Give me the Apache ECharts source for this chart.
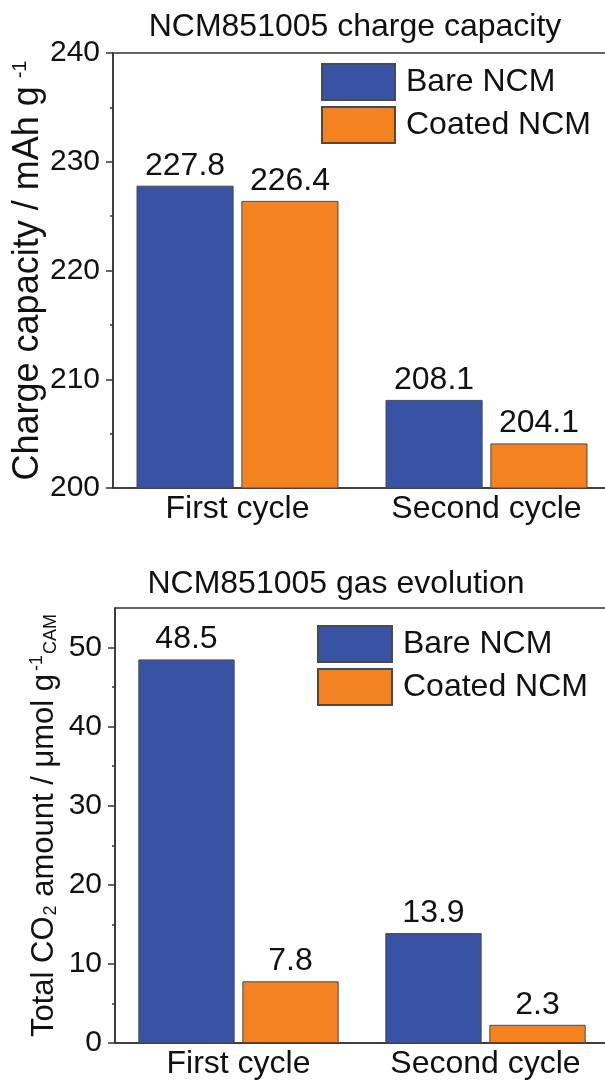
<!DOCTYPE html>
<html>
<head>
<meta charset="utf-8">
<script src="https://cdn.jsdelivr.net/npm/echarts@6/dist/echarts.min.js"></script>
<style>
  html, body { margin: 0; padding: 0; background: #fff; }
  #chart { width: 605px; height: 1081px; }
</style>
</head>
<body>
<div id="chart"></div>
<script>
// Cycle categories shared by both panels
const cycles = ['First cycle', 'Second cycle'];
const seriesNames = ['Bare NCM', 'Coated NCM'];

// Charge capacity (mAh g-1)
const capacityBare = [227.8, 208.1];
const capacityCoated = [226.4, 204.1];
const capacityTicks = [200, 210, 220, 230, 240];

// Total CO2 amount (µmol g-1 CAM)
const gasBare = [48.5, 13.9];
const gasCoated = [7.8, 2.3];
const gasTicks = [0, 10, 20, 30, 40, 50];
const gasMinorTicks = [5, 15, 25, 35, 45];

const FONT = 'Liberation Sans, Arial, sans-serif';
const BLUE = '#3953a4';
const ORANGE = '#f58220';
const INK = '#111';
const LINE = '#333';

const chart = echarts.init(document.getElementById('chart'), null, { renderer: 'canvas' });

function barSeries(name, data, color, idx) {
  return {
    name: name,
    type: 'bar',
    xAxisIndex: idx,
    yAxisIndex: idx,
    data: data,
    barWidth: '39%',
    barGap: '8%',
    itemStyle: { color: color, borderColor: '#4a4a4a', borderWidth: 1 },
    label: {
      show: true,
      position: 'top',
      distance: 4,
      fontFamily: FONT,
      fontSize: 32,
      color: INK,
      formatter: p => p.value.toFixed(1)
    }
  };
}

function xAxisCfg(idx) {
  return {
    type: 'category',
    gridIndex: idx,
    data: cycles,
    axisLine: { lineStyle: { color: LINE, width: 1.5 } },
    axisTick: { show: false },
    axisLabel: { fontFamily: FONT, fontSize: 32, color: INK, margin: 5, interval: 0, hideOverlap: false }
  };
}

const mainTop = { fontFamily: FONT, fontSize: 36, color: INK };
const supTop = { fontFamily: FONT, fontSize: 20, color: INK, verticalAlign: 'top', padding: [0, 0, 16, 8] };
const mainBot = { fontFamily: FONT, fontSize: 31, color: INK };
const supBot = { fontFamily: FONT, fontSize: 18, color: INK, verticalAlign: 'top', padding: [0, 0, 14, 3] };
const subBot = { fontFamily: FONT, fontSize: 18, color: INK, verticalAlign: 'bottom', padding: [8, 0, 0, 1] };

const option = {
  backgroundColor: '#ffffff',
  animation: false,
  graphic: [
    { type: 'text', style: { text: 'NCM851005 charge capacity', x: 355, y: 27, fontFamily: FONT, fontSize: 32, fill: INK, align: 'center', verticalAlign: 'middle' } },
    { type: 'text', style: { text: 'NCM851005 gas evolution', x: 336, y: 584, fontFamily: FONT, fontSize: 32, fill: INK, align: 'center', verticalAlign: 'middle' } }
  ],
  legend: [
    {
      data: seriesNames,
      orient: 'vertical',
      left: 321,
      top: 63,
      padding: 0,
      itemWidth: 73,
      itemHeight: 36,
      itemGap: 5,
      icon: 'rect',
      selectedMode: false,
      textStyle: { fontFamily: FONT, fontSize: 32, color: INK, padding: [0, 0, 0, 6] }
    },
    {
      data: seriesNames,
      orient: 'vertical',
      left: 317,
      top: 625,
      padding: 0,
      itemWidth: 74,
      itemHeight: 36,
      itemGap: 5,
      icon: 'rect',
      selectedMode: false,
      textStyle: { fontFamily: FONT, fontSize: 32, color: INK, padding: [0, 0, 0, 6] }
    }
  ],
  grid: [
    { left: 113, top: 53, width: 498, height: 435, outerBoundsMode: 'none', containLabel: false, show: true, borderColor: LINE, borderWidth: 1.5, backgroundColor: 'transparent' },
    { left: 115, top: 608, width: 494, height: 435, outerBoundsMode: 'none', containLabel: false, show: true, borderColor: LINE, borderWidth: 1.5, backgroundColor: 'transparent' }
  ],
  xAxis: [xAxisCfg(0), xAxisCfg(1)],
  yAxis: [
    {
      type: 'value',
      gridIndex: 0,
      min: 200,
      max: 240,
      interval: 10,
      splitLine: { show: false },
      axisLine: { show: true, lineStyle: { color: LINE, width: 1.5 } },
      axisTick: { show: true, length: 7, lineStyle: { color: LINE, width: 1.5 } },
      minorTick: { show: true, splitNumber: 2, length: 3, lineStyle: { color: LINE, width: 1.5 } },
      axisLabel: { fontFamily: FONT, fontSize: 30, color: INK, margin: 13, customValues: capacityTicks },
      name: '{m|Charge capacity / mAh g}{sup|-1}',
      nameLocation: 'middle',
      nameRotate: 90,
      nameGap: 67,
      nameMoveOverlap: false,
      nameTextStyle: { fontFamily: FONT, fontSize: 36, color: INK, rich: { m: mainTop, sup: supTop } }
    },
    {
      type: 'value',
      gridIndex: 1,
      min: 0,
      max: 55,
      interval: 10,
      splitLine: { show: false },
      axisLine: { show: true, lineStyle: { color: LINE, width: 1.5 } },
      axisTick: { show: true, length: 7, customValues: gasTicks, lineStyle: { color: LINE, width: 1.5 } },
      axisLabel: { fontFamily: FONT, fontSize: 30, color: INK, margin: 13, customValues: gasTicks },
      name: '{m|Total CO}{sub|2}{m| amount / μmol g}{sup|-1}{sub|CAM}',
      nameLocation: 'middle',
      nameRotate: 90,
      nameGap: 55,
      nameMoveOverlap: false,
      nameTextStyle: { fontFamily: FONT, fontSize: 31, color: INK, rich: { m: mainBot, sup: supBot, sub: subBot } }
    },
    {
      // minor ticks for the gas panel
      type: 'value',
      gridIndex: 1,
      position: 'left',
      min: 0,
      max: 55,
      interval: 10,
      splitLine: { show: false },
      axisLine: { show: false },
      axisTick: { show: true, length: 3, customValues: gasMinorTicks, lineStyle: { color: LINE, width: 1.5 } },
      axisLabel: { show: false }
    }
  ],
  series: [
    barSeries(seriesNames[0], capacityBare, BLUE, 0),
    barSeries(seriesNames[1], capacityCoated, ORANGE, 0),
    barSeries(seriesNames[0], gasBare, BLUE, 1),
    barSeries(seriesNames[1], gasCoated, ORANGE, 1)
  ]
};

chart.setOption(option);
</script>
</body>
</html>
